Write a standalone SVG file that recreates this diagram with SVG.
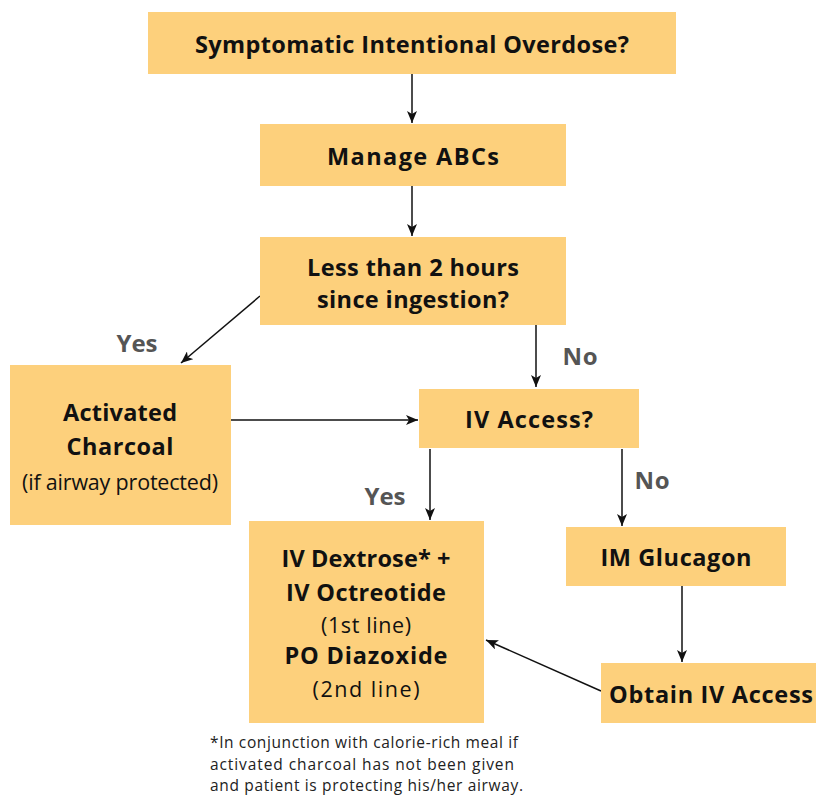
<svg xmlns="http://www.w3.org/2000/svg" width="816" height="795" viewBox="0 0 816 795">
<style>
.box{fill:#FDD07C;}
.b{font-family:"Open Sans","Liberation Sans",sans-serif;font-weight:bold;font-size:23.5px;fill:#111;text-anchor:middle;}
.r{font-family:"Open Sans","Liberation Sans",sans-serif;font-size:21.5px;fill:#111;text-anchor:middle;}
.lbl{font-family:"Open Sans","Liberation Sans",sans-serif;font-weight:bold;font-size:24px;fill:#555;text-anchor:middle;}
.fn{font-family:"Open Sans","Liberation Sans",sans-serif;font-size:15.5px;fill:#222;}
.c{stroke:#111;stroke-width:1.5;fill:none;marker-end:url(#ah);}
</style>
<defs>
<marker id="ah" viewBox="0 0 12 10" refX="12" refY="5" markerWidth="12" markerHeight="10" markerUnits="userSpaceOnUse" orient="auto">
<path d="M0,0 L12,5 L0,10 L3,5 Z" fill="#111"/>
</marker>
</defs>
<rect width="816" height="795" fill="#fff"/>
<g id="connectors">
<line class="c" x1="412" y1="74" x2="412" y2="123"/>
<line class="c" x1="412" y1="186" x2="412" y2="236"/>
<line class="c" x1="260" y1="296" x2="181" y2="363"/>
<line class="c" x1="536" y1="325" x2="536" y2="387"/>
<line class="c" x1="231" y1="420" x2="418" y2="420"/>
<line class="c" x1="430" y1="449" x2="430" y2="520"/>
<line class="c" x1="622" y1="449" x2="622" y2="526"/>
<line class="c" x1="682" y1="586" x2="682" y2="662"/>
<line class="c" x1="601" y1="691" x2="486" y2="640"/>
</g>
<g id="labels">
<text class="lbl" x="137" y="352" textLength="41" lengthAdjust="spacing">Yes</text>
<text class="lbl" x="580" y="365" textLength="35" lengthAdjust="spacing">No</text>
<text class="lbl" x="385" y="505" textLength="41" lengthAdjust="spacing">Yes</text>
<text class="lbl" x="652" y="489" textLength="35" lengthAdjust="spacing">No</text>
</g>
<g id="n1"><rect class="box" x="148" y="12" width="528" height="62"/><text class="b" x="412" y="53" textLength="434" lengthAdjust="spacing">Symptomatic Intentional Overdose?</text></g>
<g id="n2"><rect class="box" x="260" y="124" width="306" height="62"/><text class="b" x="413" y="165" textLength="172" lengthAdjust="spacing">Manage ABCs</text></g>
<g id="n3"><rect class="box" x="260" y="237" width="306" height="88"/><text class="b" x="413" y="276" textLength="212" lengthAdjust="spacing">Less than 2 hours</text><text class="b" x="413" y="308" textLength="192" lengthAdjust="spacing">since ingestion?</text></g>
<g id="n4"><rect class="box" x="10" y="365" width="221" height="160"/><text class="b" x="120" y="421" textLength="114" lengthAdjust="spacing">Activated</text><text class="b" x="120" y="455" textLength="107" lengthAdjust="spacing">Charcoal</text><text class="r" x="120" y="490" textLength="196" lengthAdjust="spacing">(if airway protected)</text></g>
<g id="n5"><rect class="box" x="419" y="389" width="220" height="59"/><text class="b" x="529" y="428" textLength="128" lengthAdjust="spacing">IV Access?</text></g>
<g id="n6"><rect class="box" x="249" y="521" width="235" height="202"/><text class="b" x="366" y="567" textLength="169" lengthAdjust="spacing">IV Dextrose* +</text><text class="b" x="366" y="601" textLength="160" lengthAdjust="spacing">IV Octreotide</text><text class="r" x="366" y="633" textLength="90" lengthAdjust="spacing">(1st line)</text><text class="b" x="366" y="664" textLength="163" lengthAdjust="spacing">PO Diazoxide</text><text class="r" x="366" y="697" textLength="107" lengthAdjust="spacing">(2nd line)</text></g>
<g id="n7"><rect class="box" x="566" y="527" width="220" height="59"/><text class="b" x="676" y="566" textLength="151" lengthAdjust="spacing">IM Glucagon</text></g>
<g id="n8"><rect class="box" x="601" y="663" width="215" height="60"/><text class="b" x="711" y="703" textLength="204" lengthAdjust="spacing">Obtain IV Access</text></g>
<g id="footnote">
<text class="fn" x="210" y="748" textLength="308" lengthAdjust="spacing">*In conjunction with calorie-rich meal if</text>
<text class="fn" x="210" y="770" textLength="304" lengthAdjust="spacing">activated charcoal has not been given</text>
<text class="fn" x="210" y="791" textLength="313" lengthAdjust="spacing">and patient is protecting his/her airway.</text>
</g>
</svg>
